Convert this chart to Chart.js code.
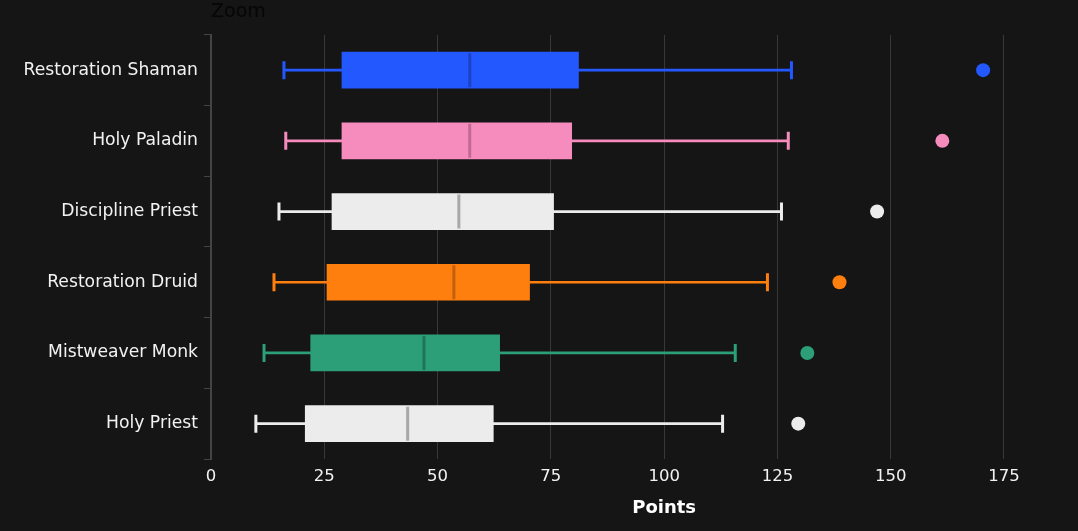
<!DOCTYPE html>
<html>
<head>
<meta charset="utf-8">
<script src="https://cdn.jsdelivr.net/npm/chart.js@4/dist/chart.umd.min.js"></script>
<style>
  html, body { margin: 0; padding: 0; background: #151515; overflow: hidden; }
  #wrap { position: relative; width: 1141px; height: 531px; }
</style>
</head>
<body>
<div id="wrap"><canvas id="c"></canvas></div>
<script>
// ---- data ----
const categories = ['Restoration Shaman', 'Holy Paladin', 'Discipline Priest', 'Restoration Druid', 'Mistweaver Monk', 'Holy Priest'];
const mins     = [16.1, 16.5, 15.0, 13.9, 11.7, 9.9];
const q1s      = [28.9, 28.9, 26.7, 25.6, 22.0, 20.8];
const medians  = [57.1, 57.1, 54.7, 53.6, 47.0, 43.4];
const q3s      = [81.1, 79.6, 75.6, 70.3, 63.7, 62.3];
const maxs     = [128.1, 127.4, 125.9, 122.8, 115.7, 112.9];
const outliers = [170.4, 161.4, 147.0, 138.7, 131.6, 129.6];
const xTicks   = [0, 25, 50, 75, 100, 125, 150, 175, 200];

// ---- styles ----
const boxColors    = ['#2458ff', '#f58cbd', '#ececec', '#ff7f0e', '#2c9e78', '#ececec'];
const medianColors = ['#1d43c4', '#c26a93', '#a8a8a8', '#c4600c', '#1f7657', '#a8a8a8'];
const FONT = "'DejaVu Sans', 'Open Sans', sans-serif";

const datasets = [
  {
    type: 'bar', label: 'whisker', grouped: false, order: 5,
    data: mins.map((m, i) => [m, maxs[i]]),
    backgroundColor: boxColors, barThickness: 2, borderWidth: 0
  },
  {
    type: 'bar', label: 'box', grouped: false, order: 4,
    data: q1s.map((q, i) => [q, q3s[i]]),
    backgroundColor: boxColors, barThickness: 36, borderWidth: 0, borderSkipped: false
  },
  {
    type: 'scatter', label: 'median', order: 1,
    data: medians.map((v, i) => ({x: v, y: categories[i]})),
    pointStyle: 'line', rotation: 90, radius: 17, borderWidth: 3,
    borderColor: medianColors, backgroundColor: medianColors
  },
  {
    type: 'scatter', label: 'minCap', order: 1,
    data: mins.map((v, i) => ({x: v, y: categories[i]})),
    pointStyle: 'line', rotation: 90, radius: 9, borderWidth: 3,
    borderColor: boxColors, backgroundColor: boxColors
  },
  {
    type: 'scatter', label: 'maxCap', order: 1,
    data: maxs.map((v, i) => ({x: v, y: categories[i]})),
    pointStyle: 'line', rotation: 90, radius: 9, borderWidth: 3,
    borderColor: boxColors, backgroundColor: boxColors
  },
  {
    type: 'scatter', label: 'outlier', order: 1,
    data: outliers.map((v, i) => ({x: v, y: categories[i]})),
    pointStyle: 'circle', radius: 7, borderWidth: 0,
    backgroundColor: boxColors, borderColor: boxColors
  }
];

new Chart(document.getElementById('c'), {
  type: 'bar',
  data: { labels: categories, datasets },
  options: {
    indexAxis: 'y',
    responsive: true,
    maintainAspectRatio: false,
    animation: false,
    layout: { padding: { top: 0, right: 15, bottom: 0, left: 0 } },
    plugins: {
      legend: { display: false },
      tooltip: { enabled: false },
      title: {
        display: true, text: 'Zoom', align: 'start', fullSize: false,
        color: '#060606', font: { family: FONT, size: 19, weight: 'normal' },
        padding: { top: 1, bottom: 11 }
      }
    },
    scales: {
      x: {
        type: 'linear', min: 0, max: 200,
        afterBuildTicks: s => { s.ticks = xTicks.map(v => ({value: v})); },
        afterFit: s => { s.height = 72; },
        border: { display: false },
        grid: { color: '#383838', lineWidth: 1, drawTicks: false },
        ticks: { color: '#f2f2f2', font: { family: FONT, size: 16.5 }, padding: 8 },
        title: {
          display: true, text: 'Points', color: '#ffffff',
          font: { family: FONT, size: 18, weight: 'bold' },
          padding: { top: 0, bottom: 12 }
        }
      },
      y: {
        type: 'category',
        afterFit: s => { s.width = 211; },
        border: { display: true, color: '#444444', width: 2 },
        grid: { drawOnChartArea: false, drawTicks: true, tickLength: 7, color: '#444444', offset: true },
        ticks: { color: '#f2f2f2', font: { family: FONT, size: 17.2 }, padding: 6 }
      }
    }
  }
});
</script>
</body>
</html>
